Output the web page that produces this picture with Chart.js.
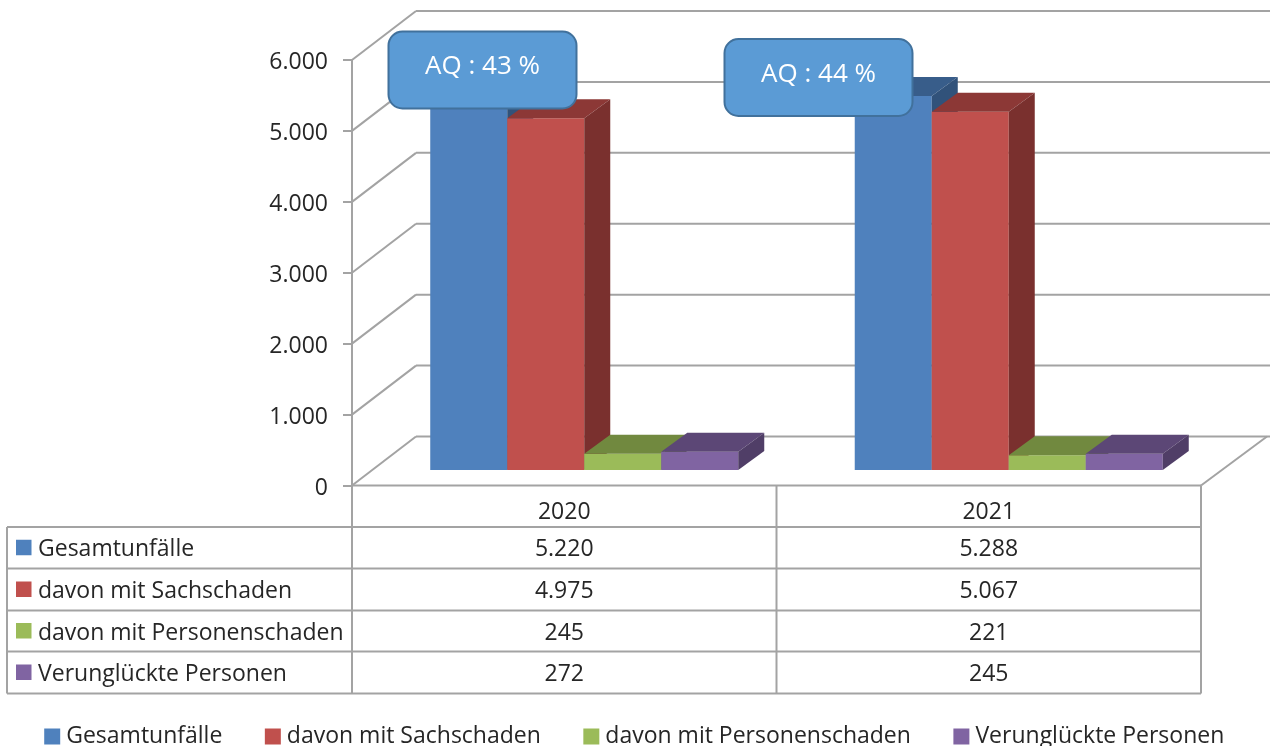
<!DOCTYPE html>
<html lang="de">
<head>
  <meta charset="UTF-8">
  <title>Unfälle 2020 / 2021</title>
  <script src="https://cdn.jsdelivr.net/npm/chart.js"></script>
  <style>
    body { margin: 0; background: #fff; }
    canvas { display: block; }
  </style>
</head>
<body>
  <canvas id="chart" width="1274" height="746"></canvas>
  <script>
    const years = ['2020', '2021'];
    const seriesNames = ['Gesamtunfälle', 'davon mit Sachschaden', 'davon mit Personenschaden', 'Verunglückte Personen'];
    const gesamt = [5220, 5288];
    const sachschaden = [4975, 5067];
    const personenschaden = [245, 221];
    const verunglueckte = [272, 245];
    const calloutTexts = ['AQ : 43 %', 'AQ : 44 %'];

    const seriesValues = [gesamt, sachschaden, personenschaden, verunglueckte];
    const front = ['#4F81BD', '#C0504D', '#9BBB59', '#8064A2'];
    const topFace = ['#385D8A', '#8C3836', '#71893F', '#5C4776'];
    const sideFace = ['#31527A', '#7A302E', '#5F7335', '#503E67'];

    const FONT = '"Open Sans", sans-serif';
    const GRID = '#a3a3a3';
    const TEXT = '#262626';
    // bars stand on a plane set back from the axis plane
    const SHIFT = { x: 20, y: -14.5 };
    const DEPTH = { x: 26, y: -19 };
    const WALL = { x: 64, y: -49 };
    const WALL_RIGHT = 1270;
    const LEGEND_PAD = 48;

    const fmt = v => String(v).replace(/\B(?=(\d{3})+$)/g, '.');

    function line(ctx, x1, y1, x2, y2) {
      ctx.beginPath();
      ctx.moveTo(x1, y1);
      ctx.lineTo(x2, y2);
      ctx.stroke();
    }

    function poly(ctx, color, pts) {
      ctx.fillStyle = color;
      ctx.beginPath();
      pts.forEach((p, i) => i ? ctx.lineTo(p[0], p[1]) : ctx.moveTo(p[0], p[1]));
      ctx.closePath();
      ctx.fill();
    }

    const scene3d = {
      id: 'scene3d',
      afterLayout(chart) {
        // legend sits lower than its box would allow, text runs to the image edge
        chart.legend.top = 735 - LEGEND_PAD - 10;
        chart.legend.bottom = 746;
        // tick labels sit a little below their tick marks
        const y = chart.scales.y;
        const drawLabels = y.drawLabels;
        y.drawLabels = function (area) {
          chart.ctx.save();
          chart.ctx.translate(0, 2.5);
          drawLabels.call(y, area);
          chart.ctx.restore();
        };
      },
      beforeDatasetsDraw(chart) {
        const { ctx, scales: { x, y } } = chart;
        const left = x.left, right = x.right;
        ctx.save();
        ctx.strokeStyle = GRID;
        ctx.lineWidth = 2;
        y.ticks.forEach(t => {
          const py = y.getPixelForValue(t.value);
          line(ctx, left, py, left + WALL.x, py + WALL.y);
          line(ctx, left + WALL.x, py + WALL.y, WALL_RIGHT, py + WALL.y);
        });
        const y0 = y.getPixelForValue(0);
        line(ctx, left, y0, right, y0);
        line(ctx, right, y0, right + WALL.x + 2, y0 + WALL.y);
        ctx.restore();

        // left to right, so every bar front covers the side face of the bar before it
        ctx.save();
        ctx.translate(SHIFT.x, SHIFT.y);
        seriesNames.forEach((name, i) => {
          const meta = chart.getDatasetMeta(i);
          meta.controller.draw();
          meta.data.forEach(bar => {
            const l = bar.x - bar.width / 2, r = bar.x + bar.width / 2;
            const t = bar.y, b = bar.base;
            poly(ctx, topFace[i], [[l, t], [r, t], [r + DEPTH.x, t + DEPTH.y], [l + DEPTH.x, t + DEPTH.y]]);
            poly(ctx, sideFace[i], [[r, t], [r + DEPTH.x, t + DEPTH.y], [r + DEPTH.x, b + DEPTH.y], [r, b]]);
          });
        });
        ctx.restore();
        return false;
      }
    };

    const dataTable = {
      id: 'dataTable',
      afterDraw(chart) {
        const { ctx, scales: { x } } = chart;
        const rows = [527, 568.5, 610.5, 651.5, 693.5];
        const tableLeft = 7;
        const y0 = 486;
        ctx.save();
        ctx.strokeStyle = GRID;
        ctx.lineWidth = 2;
        rows.forEach(r => line(ctx, tableLeft, r, x.right, r));
        line(ctx, tableLeft, rows[0], tableLeft, rows[4]);
        line(ctx, x.left, y0, x.left, rows[4]);
        line(ctx, (x.left + x.right) / 2, y0, (x.left + x.right) / 2, rows[4]);
        line(ctx, x.right, y0, x.right, rows[4]);

        ctx.font = '23px ' + FONT;
        ctx.fillStyle = TEXT;
        ctx.textAlign = 'center';
        ctx.textBaseline = 'middle';
        years.forEach((yr, c) => {
          ctx.fillText(yr, x.getPixelForTick(c), 512);
          seriesValues.forEach((vals, s) => {
            ctx.fillText(fmt(vals[c]), x.getPixelForTick(c), (rows[s] + rows[s + 1]) / 2 + 2);
          });
        });
        ctx.textAlign = 'left';
        seriesNames.forEach((name, s) => {
          const cy = (rows[s] + rows[s + 1]) / 2;
          ctx.fillStyle = front[s];
          ctx.fillRect(16, cy - 8, 15.5, 15.5);
          ctx.fillStyle = TEXT;
          ctx.fillText(name, 38, cy + 2);
        });
        ctx.restore();
      }
    };

    const callouts = {
      id: 'callouts',
      afterDraw(chart) {
        const { ctx } = chart;
        const boxes = [[388.5, 31.5], [724.5, 39]];
        ctx.save();
        calloutTexts.forEach((txt, i) => {
          const [bx, by] = boxes[i];
          ctx.beginPath();
          ctx.roundRect(bx, by, 188, 77, 14);
          ctx.fillStyle = '#5B9BD5';
          ctx.fill();
          ctx.strokeStyle = '#41719C';
          ctx.lineWidth = 2;
          ctx.stroke();
          ctx.fillStyle = '#fff';
          ctx.font = '26px ' + FONT;
          ctx.textAlign = 'center';
          ctx.textBaseline = 'middle';
          ctx.fillText(txt, bx + 94, by + 35.5);
        });
        ctx.restore();
      }
    };

    new Chart(document.getElementById('chart'), {
      type: 'bar',
      data: {
        labels: years,
        datasets: seriesNames.map((name, i) => ({
          label: name,
          data: seriesValues[i],
          backgroundColor: front[i],
          borderWidth: 0,
          pointStyle: 'rect'
        }))
      },
      options: {
        responsive: false,
        animation: false,
        layout: { padding: { top: 60, left: 0, right: 0, bottom: 746 - 485.5 - (23 + LEGEND_PAD + 10) } },
        datasets: { bar: { barPercentage: 1, categoryPercentage: 0.7256 } },
        plugins: {
          tooltip: { enabled: false },
          legend: {
            position: 'bottom',
            labels: {
              usePointStyle: true,
              boxWidth: 5,
              boxHeight: 16,
              padding: LEGEND_PAD,
              color: TEXT,
              font: { family: FONT, size: 23 }
            }
          }
        },
        scales: {
          x: { display: false },
          y: {
            min: 0,
            max: 6000,
            afterFit(scale) { scale.width = 352; },
            ticks: {
              stepSize: 1000,
              padding: 15,
              color: TEXT,
              font: { family: FONT, size: 23 },
              callback: v => fmt(v)
            },
            grid: { drawOnChartArea: false, color: GRID, lineWidth: 2, tickLength: 9 },
            border: { color: GRID, width: 2 }
          },
          // empty axis, only keeps the plot clear of the right edge
          spacer: {
            position: 'right',
            afterFit(scale) { scale.width = 73; },
            ticks: { display: false },
            grid: { display: false },
            border: { display: false }
          }
        }
      },
      plugins: [scene3d, dataTable, callouts]
    });
  </script>
</body>
</html>
